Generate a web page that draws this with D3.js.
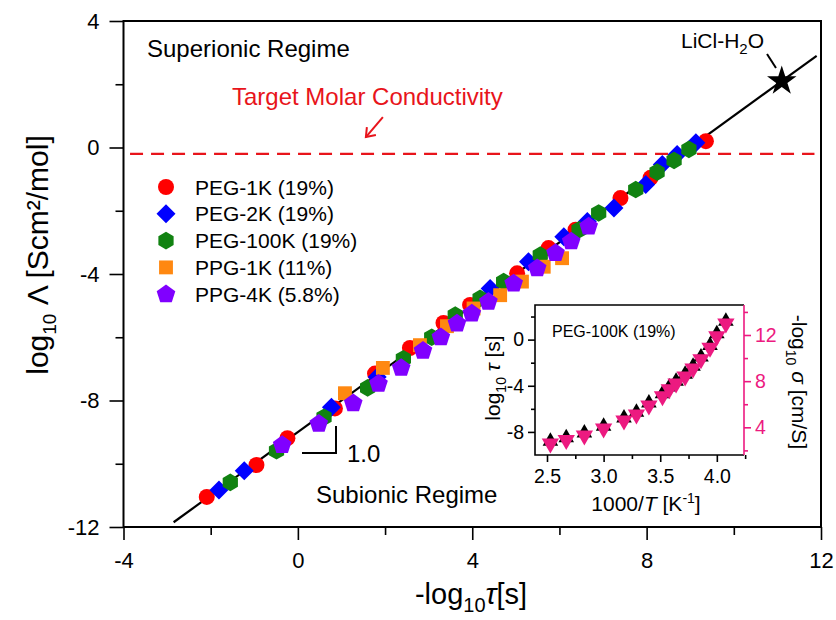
<!DOCTYPE html>
<html lang="en">
<head>
  <meta charset="UTF-8" />
  <title>Molar conductivity vs relaxation time</title>
  <script src="https://d3js.org/d3.v7.min.js"></script>
  <style>
    body { margin: 0; background: #fff; }
    svg { display: block; font-family: "Liberation Sans", Arial, sans-serif; }
    .axis path, .axis line { stroke: #000; stroke-width: 1.6px; }
    .axis text { fill: #000; font-family: "Liberation Sans", Arial, sans-serif; }
  </style>
</head>
<body>
  <svg id="chart" width="836" height="620"></svg>
  <script>
    // main panel: [-log10 tau, log10 Lambda]
    const peg1k = [[-2.09,-11.05],[-0.95,-10.04],[-0.24,-9.19],[0.85,-8.25],[1.77,-7.15],[2.57,-6.34],[3.34,-5.55],
                   [3.95,-4.98],[5.03,-3.98],[5.75,-3.18],[6.37,-2.60],[7.40,-1.60],[8.09,-0.96],[9.36,0.20]];
    const peg2k = [[-1.81,-10.83],[-1.23,-10.22],[0.77,-8.21],[1.82,-7.26],[4.41,-4.46],[5.29,-3.61],[6.10,-2.82],
                   [6.64,-2.34],[7.25,-1.91],[7.98,-1.17],[8.36,-0.54],[8.70,-0.22],[9.13,0.15]];
    const peg100k = [[-1.55,-10.59],[-0.49,-9.59],[0.60,-8.53],[1.60,-7.60],[2.42,-6.68],[3.07,-6.00],[3.61,-5.30],
                     [4.18,-4.77],[4.72,-4.24],[5.56,-3.40],[6.45,-2.60],[6.90,-2.07],[7.75,-1.33],[8.24,-0.78],
                     [8.63,-0.41],[8.97,-0.06]];
    const ppg1k = [[1.08,-7.77],[1.95,-6.97],[2.80,-6.25],[3.42,-5.65],[4.03,-5.09],[4.64,-4.67],[5.14,-4.24],
                   [5.64,-3.77],[6.06,-3.50]];
    const ppg4k = [[-0.36,-9.41],[0.48,-8.74],[1.27,-8.09],[1.85,-7.47],[2.37,-6.97],[2.87,-6.43],[3.28,-6.00],
                   [3.65,-5.57],[3.99,-5.25],[4.37,-4.88],[4.95,-4.30],[5.49,-3.82],[5.91,-3.34],[6.27,-2.97],[6.67,-2.50]];
    const seriesNames = ["PEG-1K (19%)", "PEG-2K (19%)", "PEG-100K (19%)", "PPG-1K (11%)", "PPG-4K (5.8%)"];
    const fitLine = [[-2.85,-11.85],[11.9,2.9]];
    const licl = [11.1, 2.1];
    const targetLevel = -0.2;
    const xTicks = [-4, 0, 4, 8, 12], xMinor = [-2, 2, 6, 10];
    const yTicks = [4, 0, -4, -8, -12], yMinor = [2, -2, -6, -10];

    // inset: PEG-100K (19%)
    const invT = [2.53,2.67,2.83,3.00,3.18,3.29,3.40,3.52,3.58,3.64,3.72,3.79,3.86,3.94,4.00,4.08];
    const logTau = [-8.8,-8.5,-8.1,-7.5,-6.8,-6.3,-5.5,-4.7,-4.1,-3.6,-3.0,-2.3,-1.5,-0.5,0.5,1.6];
    const negLogSigma = [2.6,2.9,3.3,3.9,4.6,5.1,5.9,6.7,7.3,7.8,8.4,9.1,9.9,10.9,11.9,13.0];
    const inXTicks = [2.5, 3.0, 3.5, 4.0], inXMinor = [2.75, 3.25, 3.75, 4.25];
    const inYTicks = [0, -4, -8], inYMinor = [2, -2, -6];
    const inRTicks = [12, 8, 4], inRMinor = [14, 10, 6, 2];

    const colors = ["#ff0000", "#0000ff", "#118211", "#ff8811", "#8000ff"];
    const pink = "#ec1a80";
    const font = '"Liberation Sans", Arial, sans-serif';
    const fmtInt = d => String(d);          // plain hyphen for negatives
    const fmt1 = d => d.toFixed(1);

    // polygon marker path
    function poly(n, r, rot) {
      const pts = d3.range(n).map(i => {
        const a = rot + i * 2 * Math.PI / n;
        return [r * Math.cos(a), r * Math.sin(a)];
      });
      return "M" + pts.map(p => p.join(",")).join("L") + "Z";
    }
    const shapes = [
      d3.symbol(d3.symbolCircle, Math.PI * 64)(),
      poly(4, 9.5, -Math.PI / 2),
      poly(6, 8.8, -Math.PI / 2),
      poly(4, 9.8, -Math.PI / 4),
      poly(5, 9.8, -Math.PI / 2)
    ];

    const svg = d3.select("#chart");
    const x = d3.scaleLinear().domain([-4, 12]).range([123.5, 821]);
    const y = d3.scaleLinear().domain([-12, 4]).range([527, 21]);

    // axes
    svg.append("g").attr("class", "axis").attr("transform", "translate(0,527)")
      .call(d3.axisBottom(x).tickValues(xTicks).tickSize(13).tickPadding(12).tickFormat(fmtInt))
      .call(g => g.selectAll("text").attr("font-size", 22))
      .call(g => g.select(".domain").remove());
    svg.append("g").attr("class", "axis").attr("transform", "translate(0,527)")
      .call(d3.axisBottom(x).tickValues(xMinor).tickSize(8).tickFormat(""))
      .call(g => g.select(".domain").remove());
    svg.append("g").attr("class", "axis").attr("transform", "translate(123.5,0)")
      .call(d3.axisLeft(y).tickValues(yTicks).tickSize(14).tickPadding(10).tickFormat(fmtInt))
      .call(g => g.selectAll("text").attr("font-size", 22))
      .call(g => g.select(".domain").remove());
    svg.append("g").attr("class", "axis").attr("transform", "translate(123.5,0)")
      .call(d3.axisLeft(y).tickValues(yMinor).tickSize(8).tickFormat(""))
      .call(g => g.select(".domain").remove());

    svg.append("rect").attr("x", 123.5).attr("y", 21).attr("width", 821 - 123.5).attr("height", 527 - 21)
      .attr("fill", "none").attr("stroke", "#000").attr("stroke-width", 2);

    // axis titles
    const xt = svg.append("text").attr("x", 471).attr("y", 604).attr("text-anchor", "middle")
      .attr("font-size", 29).attr("font-family", font);
    xt.append("tspan").text("-log");
    xt.append("tspan").attr("font-size", 20).attr("dy", 8).text("10");
    xt.append("tspan").attr("dy", -8).attr("font-style", "italic").text("τ");
    xt.append("tspan").text("[s]");

    const yt = svg.append("text").attr("transform", "translate(48,255) rotate(-90)").attr("text-anchor", "middle")
      .attr("font-size", 30).attr("font-family", font);
    yt.append("tspan").text("log");
    yt.append("tspan").attr("font-size", 19).attr("dy", 8).text("10");
    yt.append("tspan").attr("dy", -8).text(" Λ [Scm²/mol]");

    // target line
    svg.append("line")
      .attr("x1", x(-3.85)).attr("x2", x(11.85)).attr("y1", y(targetLevel)).attr("y2", y(targetLevel))
      .attr("stroke", "#e8141b").attr("stroke-width", 2.2).attr("stroke-dasharray", "13,8");

    // fit line
    svg.append("path").datum(fitLine)
      .attr("d", d3.line().x(d => x(d[0])).y(d => y(d[1])))
      .attr("stroke", "#000").attr("stroke-width", 2.2).attr("fill", "none");

    // data
    [peg1k, peg2k, peg100k, ppg1k, ppg4k].forEach((s, i) => {
      svg.append("g").selectAll("path").data(s).join("path")
        .attr("transform", d => `translate(${x(d[0])},${y(d[1])})`)
        .attr("d", shapes[i]).attr("fill", colors[i]);
    });

    // LiCl-H2O star
    svg.append("path").attr("transform", `translate(${x(licl[0])},${y(licl[1])})`)
      .attr("d", d3.symbol(d3.symbolStar, 270)()).attr("fill", "#000");
    svg.append("line").attr("x1", 767).attr("y1", 54).attr("x2", 776).attr("y2", 68)
      .attr("stroke", "#000").attr("stroke-width", 2);
    const lt = svg.append("text").attr("x", 681).attr("y", 48).attr("font-size", 21).attr("font-family", font);
    lt.append("tspan").text("LiCl-H");
    lt.append("tspan").attr("font-size", 15).attr("dy", 6).text("2");
    lt.append("tspan").attr("dy", -6).text("O");

    // annotations
    svg.append("text").attr("x", 147).attr("y", 57).attr("font-size", 24).attr("font-family", font)
      .text("Superionic Regime");
    svg.append("text").attr("x", 316).attr("y", 503).attr("font-size", 24).attr("font-family", font)
      .text("Subionic Regime");
    svg.append("text").attr("x", 232).attr("y", 105).attr("font-size", 24).attr("font-family", font)
      .attr("fill", "#e8141b").text("Target Molar Conductivity");
    const ax0 = [x(1.95), y(0.96)], ax1 = [x(1.56), y(0.33)];
    svg.append("line").attr("x1", ax0[0]).attr("y1", ax0[1]).attr("x2", ax1[0]).attr("y2", ax1[1])
      .attr("stroke", "#e8141b").attr("stroke-width", 2);
    svg.append("path").attr("d", `M${ax1[0] + 1},${ax1[1] - 10}L${ax1[0]},${ax1[1]}L${ax1[0] + 10},${ax1[1] - 2}`)
      .attr("stroke", "#e8141b").attr("stroke-width", 2).attr("fill", "none");

    // slope marker
    svg.append("path").attr("d", "M302,453H336V426").attr("stroke", "#000").attr("stroke-width", 2).attr("fill", "none");
    svg.append("text").attr("x", 347).attr("y", 462).attr("font-size", 24).attr("font-family", font).text("1.0");

    // legend
    const lg = svg.append("g");
    seriesNames.forEach((name, i) => {
      const yy = 187 + i * 26.8;
      lg.append("path").attr("transform", `translate(166,${yy})`).attr("d", shapes[i]).attr("fill", colors[i]);
      lg.append("text").attr("x", 195).attr("y", yy + 7.5).attr("font-size", 21).attr("font-family", font).text(name);
    });

    // inset
    const ix = d3.scaleLinear().domain([2.394, 4.24]).range([535, 744]);
    const iy = d3.scaleLinear().domain([-10, 3]).range([455, 305]);
    const ir = d3.scaleLinear().domain([1.6, 14.6]).range([455, 305]);
    svg.append("rect").attr("x", 535).attr("y", 305).attr("width", 209).attr("height", 150).attr("fill", "#fff");

    svg.append("g").attr("class", "axis").attr("transform", "translate(0,455)")
      .call(d3.axisBottom(ix).tickValues(inXTicks).tickSize(7).tickPadding(7).tickFormat(fmt1))
      .call(g => g.selectAll("text").attr("font-size", 19.5))
      .call(g => g.select(".domain").remove());
    svg.append("g").attr("class", "axis").attr("transform", "translate(0,455)")
      .call(d3.axisBottom(ix).tickValues(inXMinor).tickSize(4).tickFormat(""))
      .call(g => g.select(".domain").remove());
    svg.append("g").attr("class", "axis").attr("transform", "translate(535,0)")
      .call(d3.axisLeft(iy).tickValues(inYTicks).tickSize(7).tickPadding(4).tickFormat(fmtInt))
      .call(g => g.selectAll("text").attr("font-size", 19.5))
      .call(g => g.select(".domain").remove());
    svg.append("g").attr("class", "axis").attr("transform", "translate(535,0)")
      .call(d3.axisLeft(iy).tickValues(inYMinor).tickSize(4).tickFormat(""))
      .call(g => g.select(".domain").remove());
    svg.append("g").attr("class", "axis").attr("transform", "translate(744,0)")
      .call(d3.axisRight(ir).tickValues(inRTicks).tickSize(7).tickPadding(4).tickFormat(fmtInt))
      .call(g => g.selectAll("text").attr("font-size", 19.5).style("fill", pink))
      .call(g => g.selectAll("line").style("stroke", pink))
      .call(g => g.select(".domain").remove());
    svg.append("g").attr("class", "axis").attr("transform", "translate(744,0)")
      .call(d3.axisRight(ir).tickValues(inRMinor).tickSize(4).tickFormat(""))
      .call(g => g.selectAll("line").style("stroke", pink))
      .call(g => g.select(".domain").remove());

    svg.append("path").attr("d", "M744,305H535V455H744").attr("fill", "none").attr("stroke", "#000").attr("stroke-width", 1.6);
    svg.append("line").attr("x1", 744).attr("x2", 744).attr("y1", 305).attr("y2", 455)
      .attr("stroke", pink).attr("stroke-width", 1.6);

    const triUp = poly(3, 9, -Math.PI / 2), triDown = poly(3, 10, Math.PI / 2);
    svg.append("g").selectAll("path").data(invT).join("path")
      .attr("transform", (d, i) => `translate(${ix(d)},${iy(logTau[i])})`)
      .attr("d", triUp).attr("fill", "#000");
    svg.append("g").selectAll("path").data(invT).join("path")
      .attr("transform", (d, i) => `translate(${ix(d)},${ir(negLogSigma[i])})`)
      .attr("d", triDown).attr("fill", pink);

    svg.append("text").attr("x", 552).attr("y", 337).attr("font-size", 16).attr("font-family", font)
      .text("PEG-100K (19%)");

    const ixt = svg.append("text").attr("x", 646).attr("y", 511).attr("text-anchor", "middle")
      .attr("font-size", 21).attr("font-family", font);
    ixt.append("tspan").text("1000/");
    ixt.append("tspan").attr("font-style", "italic").text("T");
    ixt.append("tspan").text("  [K");
    ixt.append("tspan").attr("font-size", 14).attr("dy", -8).text("-1");
    ixt.append("tspan").attr("dy", 8).text("]");

    const iyt = svg.append("text").attr("transform", "translate(500,378) rotate(-90)").attr("text-anchor", "middle")
      .attr("font-size", 21).attr("font-family", font);
    iyt.append("tspan").text("log");
    iyt.append("tspan").attr("font-size", 14).attr("dy", 6).text("10");
    iyt.append("tspan").attr("dy", -6).attr("font-style", "italic").text(" τ");
    iyt.append("tspan").text(" [s]");

    const irt = svg.append("text").attr("transform", "translate(792,382) rotate(90)").attr("text-anchor", "middle")
      .attr("font-size", 21).attr("font-family", font);
    irt.append("tspan").text("-log");
    irt.append("tspan").attr("font-size", 14).attr("dy", 6).text("10");
    irt.append("tspan").attr("dy", -6).attr("font-style", "italic").text(" σ");
    irt.append("tspan").text(" [cm/S]");
  </script>
</body>
</html>
